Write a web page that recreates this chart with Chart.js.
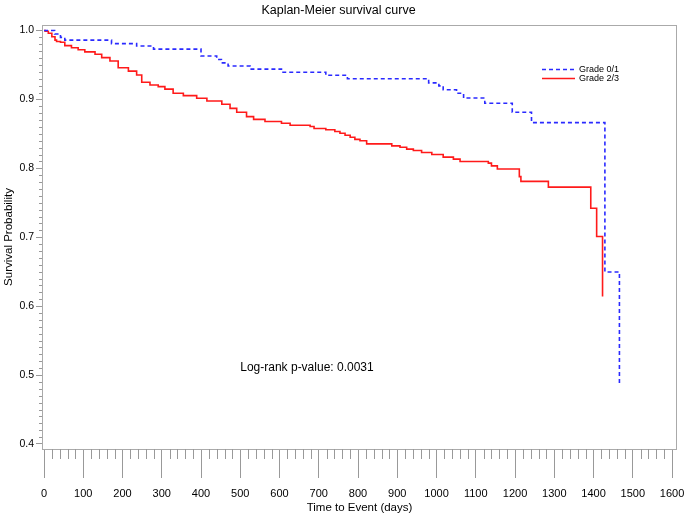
<!DOCTYPE html>
<html>
<head>
<meta charset="utf-8">
<script src="https://cdn.jsdelivr.net/npm/chart.js@4/dist/chart.umd.min.js"></script>
<style>
  html, body { margin: 0; padding: 0; background: #fff; }
</style>
</head>
<body>
<canvas id="kmChart" width="685" height="514"></canvas>
<script>
// survival estimates (day of event, survival after it)
var grade01Days = [0, 27, 42, 53, 172, 236, 279, 400, 440, 452, 469, 525, 605, 718, 773, 980, 1006, 1017, 1051, 1069, 1123, 1193, 1242, 1429, 1466];
var grade01Surv = [1.0, 0.995, 0.99, 0.986, 0.981, 0.9775, 0.973, 0.963, 0.958, 0.953, 0.9486, 0.944, 0.9394, 0.935, 0.930, 0.924, 0.9196, 0.914, 0.909, 0.902, 0.8945, 0.8814, 0.8664, 0.6496, 0.4877];

var grade23Days = [0, 3, 11, 20, 28, 32, 42, 53, 70, 87, 104, 130, 147, 168, 189, 215, 236, 249, 270, 291, 308, 329, 355, 389, 415, 453, 474, 491, 516, 534, 563, 605, 627, 678, 688, 718, 741, 754, 767, 780, 792, 805, 822, 886, 907, 924, 941, 962, 988, 1017, 1043, 1060, 1132, 1140, 1155, 1211, 1215, 1285, 1393, 1408, 1423];
var grade23Surv = [1.0, 0.999, 0.996, 0.991, 0.986, 0.984, 0.983, 0.978, 0.975, 0.972, 0.969, 0.9655, 0.9606, 0.9558, 0.946, 0.941, 0.9355, 0.925, 0.921, 0.9186, 0.915, 0.909, 0.9055, 0.9017, 0.8978, 0.893, 0.887, 0.8814, 0.875, 0.871, 0.868, 0.8655, 0.8626, 0.8606, 0.8577, 0.856, 0.8534, 0.851, 0.848, 0.845, 0.842, 0.840, 0.8355, 0.8326, 0.8307, 0.8278, 0.8258, 0.823, 0.82, 0.8162, 0.8133, 0.81, 0.8075, 0.8036, 0.799, 0.788, 0.781, 0.7727, 0.742, 0.701, 0.614];

var seriesLabels = ['Grade 0/1', 'Grade 2/3'];
var xTickValues = [0, 100, 200, 300, 400, 500, 600, 700, 800, 900, 1000, 1100, 1200, 1300, 1400, 1500, 1600];
var yTickValues = [0.4, 0.5, 0.6, 0.7, 0.8, 0.9, 1.0];
var pValueText = 'Log-rank p-value: 0.0031';

var fontFam = '"Liberation Sans", Arial, sans-serif';

function toPoints(days, surv) {
  return days.map(function (d, i) { return { x: d, y: surv[i] }; });
}

// frame, minor ticks, legend and p-value note
var kmExtras = {
  id: 'kmExtras',
  afterDraw: function (chart) {
    var ctx = chart.ctx;
    var area = chart.chartArea;
    var xs = chart.scales.x;
    var ys = chart.scales.y;
    ctx.save();

    ctx.strokeStyle = '#aaaaaa';
    ctx.lineWidth = 1;
    ctx.strokeRect(Math.round(area.left) + 0.5, Math.round(area.top) + 0.5,
      Math.round(area.right - area.left) - 1, Math.round(area.bottom - area.top));

    ctx.strokeStyle = '#999999';
    ctx.beginPath();
    for (var v = 0; v <= 1600; v += 20) {
      if (v % 100 === 0) continue;
      var px = Math.round(xs.getPixelForValue(v)) + 0.5;
      ctx.moveTo(px, area.bottom);
      ctx.lineTo(px, area.bottom + 10);
    }
    for (var k = 40; k <= 100; k++) {
      if (k % 10 === 0) continue;
      var py = Math.round(ys.getPixelForValue(k / 100)) + 0.5;
      ctx.moveTo(area.left - 3, py);
      ctx.lineTo(area.left, py);
    }
    ctx.stroke();

    // legend
    var lx = area.right - 135;
    var ly = area.top + 43.5;
    ctx.font = '9px ' + fontFam;
    ctx.textBaseline = 'middle';
    ctx.textAlign = 'left';
    chart.data.datasets.forEach(function (ds, i) {
      var y = Math.round(ly + i * 9) + 0.5;
      ctx.strokeStyle = ds.borderColor;
      ctx.lineWidth = 1.5;
      ctx.setLineDash(ds.borderDash || []);
      ctx.beginPath();
      ctx.moveTo(lx, y);
      ctx.lineTo(lx + 33, y);
      ctx.stroke();
      ctx.setLineDash([]);
      ctx.fillStyle = '#000';
      ctx.fillText(ds.label, lx + 37, y);
    });

    ctx.font = '12px ' + fontFam;
    ctx.fillStyle = '#000';
    ctx.fillText(pValueText, xs.getPixelForValue(500), ys.getPixelForValue(0.51));
    ctx.restore();
  }
};

new Chart(document.getElementById('kmChart'), {
  type: 'line',
  data: {
    datasets: [
      {
        label: seriesLabels[0],
        data: toPoints(grade01Days, grade01Surv),
        borderColor: '#2a2aff',
        borderWidth: 1.6,
        borderDash: [4, 3],
        stepped: 'before',
        pointRadius: 0,
        fill: false
      },
      {
        label: seriesLabels[1],
        data: toPoints(grade23Days, grade23Surv),
        borderColor: '#ff1a1a',
        borderWidth: 1.6,
        stepped: 'before',
        pointRadius: 0,
        fill: false
      }
    ]
  },
  options: {
    responsive: false,
    animation: false,
    layout: { padding: { left: 0, right: 8, top: 0, bottom: 0 } },
    plugins: {
      legend: { display: false },
      tooltip: { enabled: false },
      title: {
        display: true,
        text: 'Kaplan-Meier survival curve',
        color: '#000',
        font: { family: fontFam, size: 12.5, weight: 'normal' },
        padding: { top: 3, bottom: 7 }
      }
    },
    scales: {
      x: {
        type: 'linear',
        min: -5.1,
        max: 1612.7,
        afterBuildTicks: function (axis) {
          axis.ticks = xTickValues.map(function (v) { return { value: v }; });
        },
        afterFit: function (axis) {
          axis.height = 65;
          axis.paddingLeft = 0;
          axis.paddingRight = 0;
        },
        grid: { drawOnChartArea: false, tickLength: 29, color: '#999999' },
        border: { display: false },
        ticks: {
          padding: 9,
          color: '#000',
          maxRotation: 0,
          autoSkip: false,
          font: { family: fontFam, size: 11 },
          callback: function (v) { return String(v); }
        },
        title: {
          display: true,
          text: 'Time to Event (days)',
          color: '#000',
          font: { family: fontFam, size: 11.5, lineHeight: 1 },
          padding: 0
        }
      },
      y: {
        type: 'linear',
        min: 0.3927,
        max: 1.008,
        afterBuildTicks: function (axis) {
          axis.ticks = yTickValues.map(function (v) { return { value: v }; });
        },
        afterFit: function (axis) {
          axis.width = 42;
          axis.paddingTop = 0;
          axis.paddingBottom = 0;
        },
        grid: { drawOnChartArea: false, tickLength: 6, color: '#999999' },
        border: { display: false },
        ticks: {
          padding: 2,
          color: '#000',
          font: { family: fontFam, size: 10.5 },
          callback: function (v) { return v.toFixed(1); }
        },
        title: {
          display: true,
          text: 'Survival Probability',
          color: '#000',
          font: { family: fontFam, size: 11.5 },
          padding: { top: 2, bottom: 0 }
        }
      }
    }
  },
  plugins: [kmExtras]
});
</script>
</body>
</html>
